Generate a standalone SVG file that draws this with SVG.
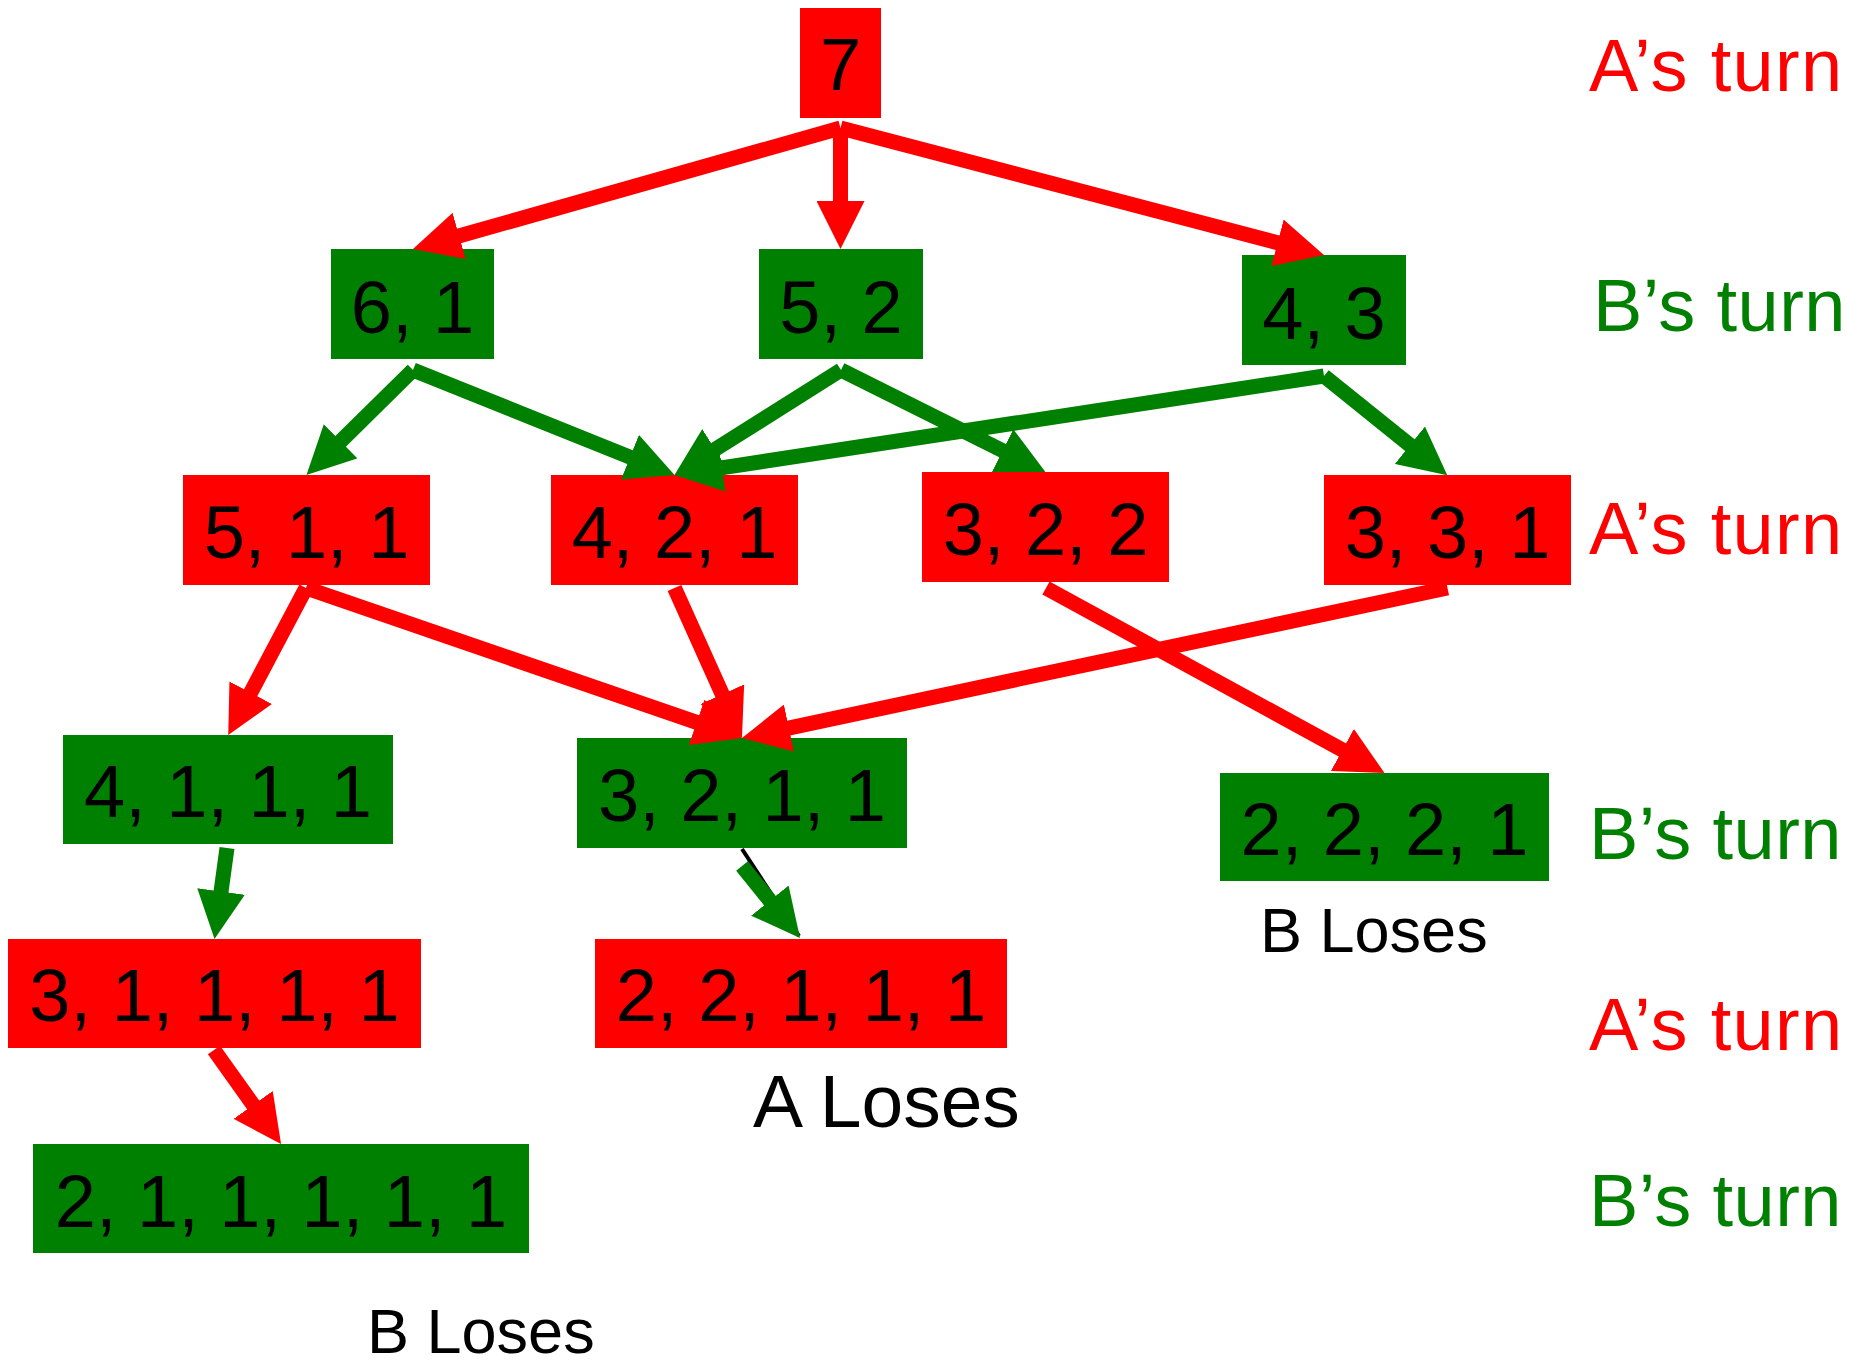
<svg xmlns="http://www.w3.org/2000/svg" width="1867" height="1367" viewBox="0 0 1867 1367">
  <style>
    .a { fill: #ff0000; }
    .b { fill: #008000; }
    .lbl { font-family: "Liberation Sans", Arial, sans-serif; font-size: 74px; fill: #000; text-anchor: middle; }
    .turn { font-family: "Liberation Sans", Arial, sans-serif; font-size: 74px; }
    .ta { fill: #ff0000; letter-spacing: 1.3px; }
    .tb { fill: #008000; letter-spacing: 0.4px; }
    .lose { font-family: "Liberation Sans", Arial, sans-serif; fill: #000; }
    .er { stroke: #ff0000; stroke-width: 15; fill: none; marker-end: url(#hr); }
    .eg { stroke: #008000; stroke-width: 15; fill: none; marker-end: url(#hg); }
  </style>
  <defs>
    <marker id="hr" markerUnits="userSpaceOnUse" markerWidth="48" markerHeight="48" viewBox="0 0 48 48" refX="4" refY="24" orient="auto">
      <path d="M0,0 L48,24 L0,48 z" fill="#ff0000"/>
    </marker>
    <marker id="hg" markerUnits="userSpaceOnUse" markerWidth="48" markerHeight="48" viewBox="0 0 48 48" refX="4" refY="24" orient="auto">
      <path d="M0,0 L48,24 L0,48 z" fill="#008000"/>
    </marker>
  </defs>
  <rect width="1867" height="1367" fill="#fff"/>

  <!-- game states -->
  <g id="n7"><rect class="a" x="800" y="8" width="81" height="110"/><text class="lbl" x="840.5" y="90">7</text></g>
  <g id="n61"><rect class="b" x="331" y="249" width="163" height="110"/><text class="lbl" x="412.5" y="333">6, 1</text></g>
  <g id="n52"><rect class="b" x="759" y="249" width="164" height="110"/><text class="lbl" x="841" y="333">5, 2</text></g>
  <g id="n43"><rect class="b" x="1242" y="255" width="164" height="110"/><text class="lbl" x="1324" y="339">4, 3</text></g>
  <g id="n511"><rect class="a" x="183" y="475" width="247" height="110"/><text class="lbl" x="306.5" y="558">5, 1, 1</text></g>
  <g id="n421"><rect class="a" x="551" y="475" width="247" height="110"/><text class="lbl" x="674.5" y="558">4, 2, 1</text></g>
  <g id="n322"><rect class="a" x="922" y="472" width="247" height="110"/><text class="lbl" x="1045.5" y="555">3, 2, 2</text></g>
  <g id="n331"><rect class="a" x="1324" y="475" width="247" height="110"/><text class="lbl" x="1447.5" y="558">3, 3, 1</text></g>
  <g id="n4111"><rect class="b" x="63" y="735" width="330" height="109"/><text class="lbl" x="228" y="817">4, 1, 1, 1</text></g>
  <g id="n3211"><rect class="b" x="577" y="738" width="330" height="110"/><text class="lbl" x="742" y="821">3, 2, 1, 1</text></g>
  <g id="n2221"><rect class="b" x="1220" y="773" width="329" height="108"/><text class="lbl" x="1384.5" y="855">2, 2, 2, 1</text></g>
  <g id="n31111"><rect class="a" x="8" y="939" width="413" height="109"/><text class="lbl" x="214.5" y="1021">3, 1, 1, 1, 1</text></g>
  <g id="n22111"><rect class="a" x="595" y="939" width="412" height="109"/><text class="lbl" x="801" y="1021">2, 2, 1, 1, 1</text></g>
  <g id="n211111"><rect class="b" x="33" y="1144" width="496" height="109"/><text class="lbl" x="281" y="1227">2, 1, 1, 1, 1, 1</text></g>

  <!-- moves -->
  <g id="connectors">
    <line class="er" x1="840.5" y1="128" x2="455.3" y2="237.0"/>
    <line class="er" x1="840.5" y1="128" x2="840.5" y2="205"/>
    <line class="er" x1="840.5" y1="128" x2="1281.4" y2="243.8"/>
    <line class="eg" x1="413" y1="370" x2="337.8" y2="444.1"/>
    <line class="eg" x1="413" y1="370" x2="633.7" y2="458.6"/>
    <line class="eg" x1="841" y1="370" x2="711.7" y2="451.5"/>
    <line class="eg" x1="841" y1="370" x2="1006.1" y2="452.4"/>
    <line class="eg" x1="1324" y1="376" x2="718.0" y2="468.4"/>
    <line class="eg" x1="1324" y1="376" x2="1413.0" y2="447.7"/>
    <line class="er" x1="306" y1="588" x2="248.8" y2="696.2"/>
    <line class="er" x1="306" y1="588" x2="700.4" y2="723.7"/>
    <line class="er" x1="674.5" y1="588" x2="723.9" y2="697.9"/>
    <line class="er" x1="1447.5" y1="588" x2="785.0" y2="728.8"/>
    <line class="er" x1="1046" y1="588" x2="1345.9" y2="751.9"/>
    <line class="eg" x1="227" y1="848" x2="220.5" y2="895.4"/>
    <line x1="742" y1="849" x2="799" y2="936" stroke="#000" stroke-width="4"/>
    <line class="eg" x1="742" y1="866" x2="772.4" y2="903.7"/>
    <line class="er" x1="214" y1="1050" x2="255.5" y2="1108.2"/>
  </g>

  <!-- whose move it is on each level -->
  <g id="turns" class="turn">
    <text class="ta" x="1589" y="91">A’s turn</text>
    <text class="tb" x="1593" y="331">B’s turn</text>
    <text class="ta" x="1589" y="554">A’s turn</text>
    <text class="tb" x="1589" y="859">B’s turn</text>
    <text class="ta" x="1589" y="1050">A’s turn</text>
    <text class="tb" x="1589" y="1226">B’s turn</text>
  </g>

  <!-- outcomes -->
  <g id="outcomes" class="lose">
    <text x="1260" y="952" font-size="63">B Loses</text>
    <text x="753" y="1127" font-size="75">A Loses</text>
    <text x="367" y="1353" font-size="63">B Loses</text>
  </g>
</svg>
